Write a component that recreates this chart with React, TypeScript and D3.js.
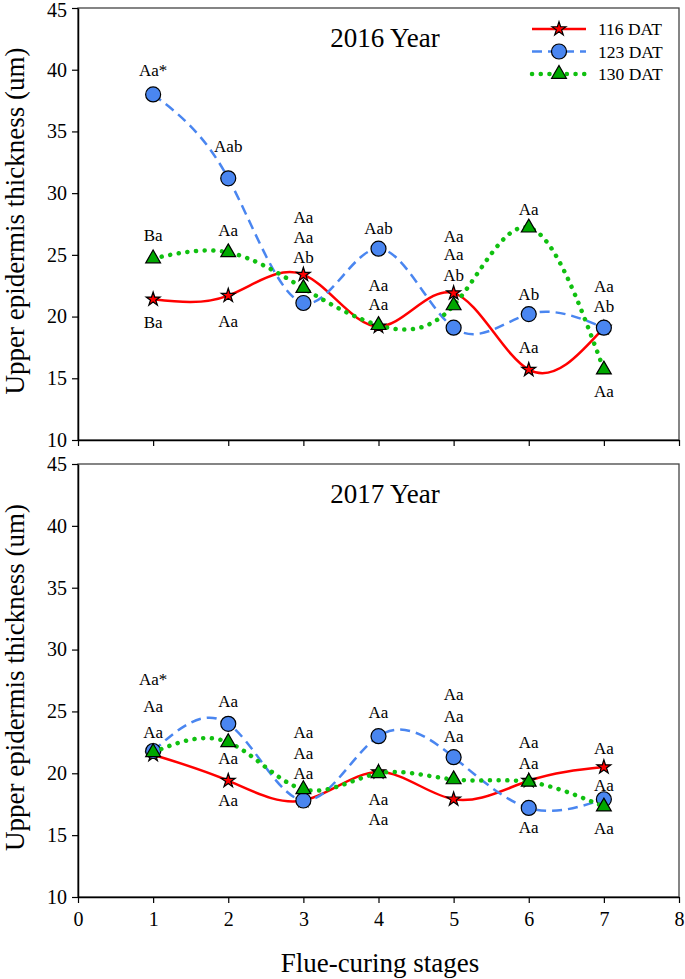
import { useRef, useEffect } from "react";
import * as d3 from "d3";

const WIDTH = 685;
const HEIGHT = 979;
const LEFT = 78;
const RIGHT = 679;
const FONT = "'Liberation Serif', 'Times New Roman', serif";

const STAGES = [1, 2, 3, 4, 5, 6, 7];
const X_TICKS = [0, 1, 2, 3, 4, 5, 6, 7, 8];
const Y_TICKS = [10, 15, 20, 25, 30, 35, 40, 45];
const SERIES_NAMES = ["116 DAT", "123 DAT", "130 DAT"];

// 2016 values
const Y2016_116 = [21.4, 21.7, 23.4, 19.2, 21.9, 15.7, 19.1];
const Y2016_123 = [38.0, 31.2, 21.1, 25.5, 19.1, 20.2, 19.1];
const Y2016_130 = [24.7, 25.2, 22.3, 19.3, 20.9, 27.2, 15.7];

// 2017 values
const Y2017_116 = [21.5, 19.4, 17.8, 20.1, 17.9, 19.4, 20.5];
const Y2017_123 = [21.8, 24.0, 17.8, 23.0, 21.3, 17.2, 17.9];
const Y2017_130 = [21.7, 22.5, 18.7, 20.0, 19.5, 19.3, 17.3];

// significance letters: [stage, value where the text sits, text]
const LABELS_2016: [number, number, string][] = [
  [1, 39.9, "Aa*"], [1, 26.6, "Ba"], [1, 19.5, "Ba"],
  [2, 33.8, "Aab"], [2, 27.0, "Aa"], [2, 19.6, "Aa"],
  [3, 28.0, "Aa"], [3, 26.4, "Aa"], [3, 24.8, "Ab"],
  [4, 27.1, "Aab"], [4, 22.5, "Aa"], [4, 21.0, "Aa"],
  [5, 26.5, "Aa"], [5, 25.0, "Aa"], [5, 23.3, "Ab"],
  [6, 28.7, "Aa"], [6, 21.75, "Ab"], [6, 17.5, "Aa"],
  [7, 22.4, "Aa"], [7, 20.8, "Ab"], [7, 13.9, "Aa"],
];

const LABELS_2017: [number, number, string][] = [
  [1, 27.6, "Aa*"], [1, 25.4, "Aa"], [1, 23.3, "Aa"],
  [2, 25.8, "Aa"], [2, 21.2, "Aa"], [2, 17.8, "Aa"],
  [3, 23.3, "Aa"], [3, 21.6, "Aa"], [3, 20.0, "Aa"],
  [4, 24.9, "Aa"], [4, 17.9, "Aa"], [4, 16.3, "Aa"],
  [5, 26.4, "Aa"], [5, 24.6, "Aa"], [5, 23.0, "Aa"],
  [6, 22.45, "Aa"], [6, 20.8, "Aa"], [6, 15.6, "Aa"],
  [7, 22.0, "Aa"], [7, 19.05, "Aa"], [7, 15.5, "Aa"],
];

const STYLES = [
  { color: "#ff0000", width: 2.5, dash: "none", cap: "butt", marker: "star", fill: "#ff0000" },
  { color: "#4a86f0", width: 2.5, dash: "10 6", cap: "butt", marker: "circle", fill: "#4a86f0" },
  { color: "#10c010", width: 4.5, dash: "0.1 8.6", cap: "round", marker: "triangle", fill: "#00a800" },
];

const starPath = d3.symbol(d3.symbolStar, 60)()!;
const triPath = d3.symbol(d3.symbolTriangle, 95)()!;

function Marker({ kind, x, y, fill }: { kind: string; x: number; y: number; fill: string }) {
  if (kind === "circle")
    return <circle cx={x} cy={y} r={7.5} fill={fill} stroke="#000" strokeWidth={1.2} />;
  return (
    <path
      d={kind === "star" ? starPath : triPath}
      transform={`translate(${x},${y})`}
      fill={fill}
      stroke="#000"
      strokeWidth={1.2}
    />
  );
}

function Panel({
  top,
  bottom,
  title,
  series,
  labels,
  showXLabels,
  showLegend,
}: {
  top: number;
  bottom: number;
  title: string;
  series: number[][];
  labels: [number, number, string][];
  showXLabels: boolean;
  showLegend: boolean;
}) {
  const xAxisRef = useRef(null);
  const yAxisRef = useRef(null);

  const xScale = d3.scaleLinear().domain([0, 8]).range([LEFT, RIGHT]);
  const yScale = d3.scaleLinear().domain([10, 45]).range([bottom, top]);

  useEffect(() => {
    const gx = d3.select(xAxisRef.current);
    gx.selectAll("*").remove();
    gx.call(
      d3
        .axisBottom(xScale)
        .tickValues(X_TICKS)
        .tickSize(6)
        .tickSizeOuter(0)
        .tickPadding(9)
        .tickFormat((d) => (showXLabels ? String(d) : ""))
    );
    const gy = d3.select(yAxisRef.current);
    gy.selectAll("*").remove();
    gy.call(d3.axisLeft(yScale).tickValues(Y_TICKS).tickSize(6).tickSizeOuter(0).tickPadding(5));
    [gx, gy].forEach((g) => {
      g.attr("font-family", FONT).attr("font-size", 20);
      g.selectAll("path").attr("stroke", "#000").attr("stroke-width", 1.5);
      g.selectAll("line").attr("stroke", "#000").attr("stroke-width", 1.2);
      g.selectAll("text").attr("fill", "#000");
    });
    // keep the top "45" label inside the picture
    gy.selectAll<SVGTextElement, number>("text")
      .filter((d) => d === 45 && top < 20)
      .attr("dy", "0.42em");
  }, [top, bottom, showXLabels]);

  const line = d3
    .line<number>()
    .x((_, i) => xScale(STAGES[i]))
    .y((d) => yScale(d))
    .curve(d3.curveNatural);

  return (
    <g>
      <rect
        x={LEFT}
        y={top}
        width={RIGHT - LEFT}
        height={bottom - top}
        fill="none"
        stroke="#444"
        strokeWidth={1.3}
      />
      <g ref={xAxisRef} transform={`translate(0,${bottom})`} />
      <g ref={yAxisRef} transform={`translate(${LEFT},0)`} />
      <text x={385} y={top + 39} textAnchor="middle" fontFamily={FONT} fontSize={27}>
        {title}
      </text>
      {series.map((vals, s) => {
        const st = STYLES[s];
        return (
          <g key={s}>
            <path
              d={line(vals)!}
              fill="none"
              stroke={st.color}
              strokeWidth={st.width}
              strokeDasharray={st.dash}
              strokeLinecap={st.cap as any}
            />
            {vals.map((v, i) => (
              <Marker key={i} kind={st.marker} x={xScale(STAGES[i])} y={yScale(v)} fill={st.fill} />
            ))}
          </g>
        );
      })}
      {labels.map(([stage, v, t], i) => (
        <text
          key={i}
          x={xScale(stage)}
          y={yScale(v)}
          textAnchor="middle"
          dominantBaseline="central"
          fontFamily={FONT}
          fontSize={17}
        >
          {t}
        </text>
      ))}
      {showLegend &&
        SERIES_NAMES.map((name, s) => {
          const st = STYLES[s];
          const ly = top + 21 + s * 22.5;
          return (
            <g key={name}>
              <line
                x1={532}
                x2={586}
                y1={ly}
                y2={ly}
                stroke={st.color}
                strokeWidth={st.width}
                strokeDasharray={st.dash}
                strokeLinecap={st.cap as any}
              />
              <Marker kind={st.marker} x={559} y={ly} fill={st.fill} />
              <text x={598} y={ly} dominantBaseline="central" fontFamily={FONT} fontSize={17.5}>
                {name}
              </text>
            </g>
          );
        })}
      <text
        transform={`translate(15,${(top + bottom) / 2 - 3}) rotate(-90)`}
        textAnchor="middle"
        dominantBaseline="central"
        fontFamily={FONT}
        fontSize={27}
      >
        Upper epidermis thickness (um)
      </text>
    </g>
  );
}

export default function App() {
  return (
    <svg
      width={WIDTH}
      height={HEIGHT}
      style={{ position: "absolute", left: 0, top: 0, background: "#fff" }}
    >
      <rect width={WIDTH} height={HEIGHT} fill="#fff" />
      <Panel
        top={8}
        bottom={440}
        title="2016 Year"
        series={[Y2016_116, Y2016_123, Y2016_130]}
        labels={LABELS_2016}
        showXLabels={false}
        showLegend={true}
      />
      <Panel
        top={464}
        bottom={897}
        title="2017 Year"
        series={[Y2017_116, Y2017_123, Y2017_130]}
        labels={LABELS_2017}
        showXLabels={true}
        showLegend={false}
      />
      <text x={380} y={972} textAnchor="middle" fontFamily={FONT} fontSize={27}>
        Flue-curing stages
      </text>
    </svg>
  );
}
